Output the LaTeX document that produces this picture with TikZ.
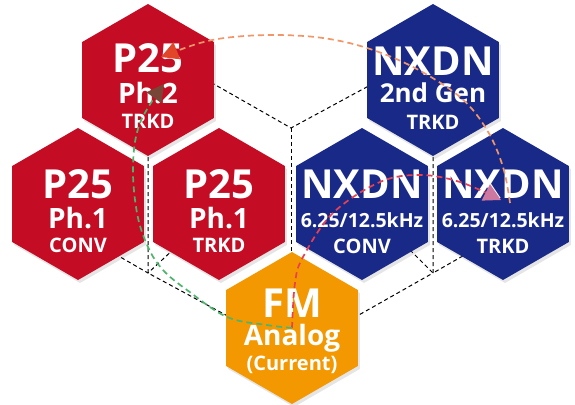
\documentclass[tikz,border=0pt]{standalone}
\usepackage{fontspec}
\setmainfont{Open Sans}
\usetikzlibrary{shapes.geometric,shadows,arrows.meta}
\definecolor{pred}{RGB}{196,13,37}
\definecolor{nblue}{RGB}{25,41,135}
\definecolor{fmorange}{RGB}{243,152,0}
\definecolor{arcorange}{RGB}{240,150,105}
\definecolor{arcred}{RGB}{232,64,80}
\definecolor{arcgreen}{RGB}{77,180,110}
\definecolor{tipred}{RGB}{225,70,40}
\definecolor{tippink}{RGB}{205,120,160}
\definecolor{tipbrown}{RGB}{120,70,55}
\tikzset{
  hexcell/.style={regular polygon, regular polygon sides=6, shape border rotate=30,
    minimum size=152pt, inner sep=0pt, fill=#1,
    drop shadow={opacity=0.2, shadow xshift=2pt, shadow yshift=-3pt}},
  bigtxt/.style={font=\bfseries\fontsize{40}{40}\selectfont, text=white, anchor=base, inner sep=0pt},
  midtxt/.style={font=\bfseries\fontsize{28}{28}\selectfont, text=white, anchor=base, inner sep=0pt},
  gentxt/.style={font=\bfseries\fontsize{26}{26}\selectfont, text=white, anchor=base, inner sep=0pt},
  lowtxt/.style={font=\bfseries\fontsize{20}{20}\selectfont, text=white, anchor=base, inner sep=0pt},
  khztxt/.style={font=\bfseries\fontsize{19.5}{20}\selectfont, text=white, anchor=base, inner sep=0pt},
  guide/.style={black, line width=1pt, dash pattern=on 4pt off 3pt},
  flow/.style={line width=1.7pt, dash pattern=on 6pt off 4pt},
}
\begin{document}
\begin{tikzpicture}[x=1pt,y=-1pt]
  \fill[white] (0,0) rectangle (575,404);
  \useasboundingbox (0,0) rectangle (575,404);
  % dashed frame behind the cells
  \coordinate (j1) at (291,128);
  \coordinate (j2) at (148,273);
  \coordinate (j3) at (433,273);
  \draw[guide] (205,79) -- (j1) -- (376,82);
  \draw[guide] (j1) -- (291,262);
  \draw[guide] (148,150) -- (j2) -- (235,320);
  \draw[guide] (115,254) -- (j2) -- (176,247);
  \draw[guide] (433,150) -- (j3) -- (350,320);
  \draw[guide] (405,245) -- (j3) -- (468,253);
  % cells
  \node[hexcell=pred] (ph2) at (148,80) {};
  \node[hexcell=pred] (p1c) at (78,204) {};
  \node[hexcell=pred] (p1t) at (219,204) {};
  \node[hexcell=nblue] (nx2) at (433,80) {};
  \node[hexcell=nblue] (nxc) at (362,204) {};
  \node[hexcell=nblue] (nxt) at (503,204) {};
  \node[hexcell=fmorange] (fm) at (292,328) {};
  % labels
  \node[bigtxt] (ph2a) at ([yshift=8pt]ph2.center) {P25};
  \node[midtxt] (ph2b) at ([yshift=-23pt]ph2.center) {Ph.2};
  \node[lowtxt] (ph2c) at ([yshift=-48pt]ph2.center) {TRKD};
  \node[bigtxt] (p1ca) at ([yshift=6pt]p1c.center) {P25};
  \node[midtxt] (p1cb) at ([yshift=-24pt]p1c.center) {Ph.1};
  \node[lowtxt] (p1cc) at ([yshift=-48pt]p1c.center) {CONV};
  \node[bigtxt] (p1ta) at ([yshift=6pt]p1t.center) {P25};
  \node[midtxt] (p1tb) at ([yshift=-24pt]p1t.center) {Ph.1};
  \node[lowtxt] (p1tc) at ([yshift=-48pt]p1t.center) {TRKD};
  \node[bigtxt] (nx2a) at ([yshift=5pt]nx2.center) {NXDN};
  \node[gentxt] (nx2b) at ([yshift=-22pt]nx2.center) {2nd Gen};
  \node[lowtxt] (nx2c) at ([yshift=-49pt]nx2.center) {TRKD};
  \node[bigtxt] (nxca) at ([yshift=6pt]nxc.center) {NXDN};
  \node[khztxt] (nxcb) at ([yshift=-23pt]nxc.center) {6.25/12.5kHz};
  \node[lowtxt] (nxcc) at ([yshift=-49pt]nxc.center) {CONV};
  \node[bigtxt] (nxta) at ([yshift=6pt]nxt.center) {NXDN};
  \node[khztxt] (nxtb) at ([yshift=-23pt]nxt.center) {6.25/12.5kHz};
  \node[lowtxt] (nxtc) at ([yshift=-49pt]nxt.center) {TRKD};
  \node[bigtxt] (fma) at ([yshift=11pt]fm.center) {FM};
  \node[midtxt] (fmb) at ([yshift=-17pt]fm.center) {Analog};
  \node[lowtxt] (fmc) at ([yshift=-42pt]fm.center) {(Current)};
  % migration paths
  \coordinate (orstart) at ([xshift=7pt,yshift=1pt]nxt.center);
  \coordinate (orend) at ([xshift=13pt,yshift=23pt]ph2.center);
  \coordinate (grend) at ([xshift=16pt,yshift=-4pt]ph2.center);
  \coordinate (rdend) at ([xshift=-2pt,yshift=4pt]nxt.center);
  \draw[flow, arcorange, -{Triangle[length=17pt,width=18pt,color=tipred]}]
    plot[smooth, tension=0.6] coordinates {(orstart) (503,167) (487,130) (460,97)
      (413,67) (367,48) (323,38) (277,35) (233,37) (200,43) (orend)};
  \draw[flow, arcred, -{Triangle[length=17pt,width=18pt,color=tippink]}]
    plot[smooth, tension=0.6] coordinates {(fm.center) (295,283) (303,257) (333,213)
      (380,182) (420,175) (460,182) (rdend)};
  \draw[flow, arcgreen, -{Triangle[length=17pt,width=18pt,color=tipbrown]}]
    plot[smooth, tension=0.6] coordinates {(fm.center) (267,325) (227,317) (187,290)
      (163,270) (148,247) (137,213) (133,165) (140,123) (grend)};
\end{tikzpicture}
\end{document}
